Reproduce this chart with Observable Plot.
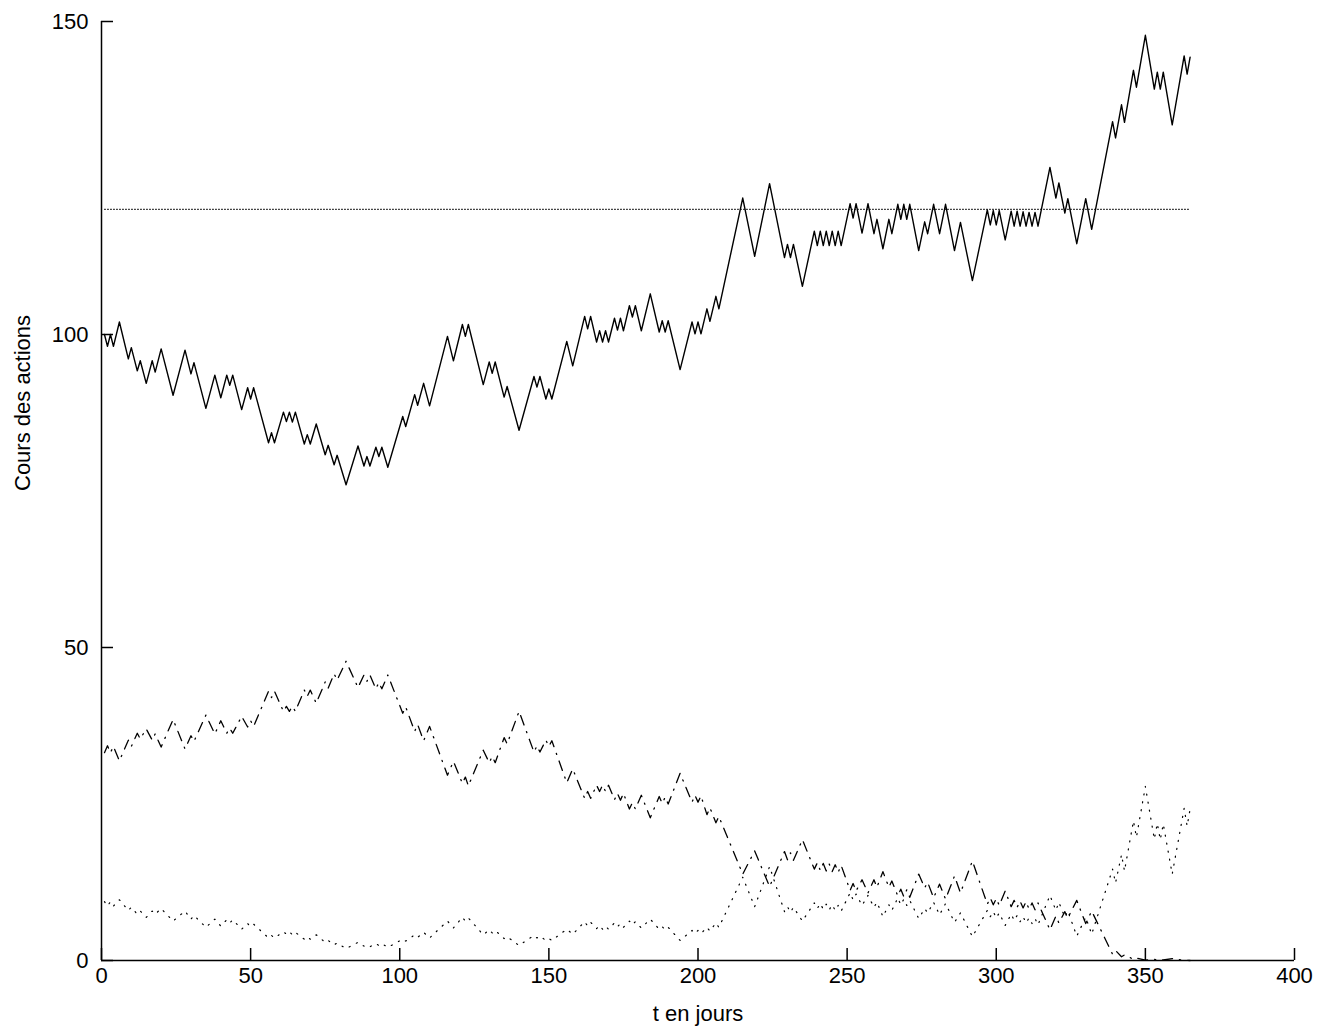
<!DOCTYPE html>
<html>
<head>
<meta charset="utf-8">
<script src="https://cdn.jsdelivr.net/npm/d3@7"></script>
<script src="https://cdn.jsdelivr.net/npm/@observablehq/plot@0.6"></script>
<style>
  html, body { margin: 0; padding: 0; background: #fff; }
  #chart { width: 1337px; height: 1034px; }
</style>
</head>
<body>
<div id="chart"></div>
<script>
// Trading days at which the share price changes direction (turning points of the walk)
const days = [
  1,2,3,4,6,9,10,12,13,15,
  17,18,20,24,28,30,31,35,38,40,
  42,43,44,47,49,50,51,56,57,58,
  61,62,63,64,65,68,69,70,72,75,
  76,78,79,82,86,88,89,90,92,93,
  94,96,101,102,105,106,108,110,116,118,
  121,122,123,128,130,131,132,135,136,140,
  145,146,147,149,150,151,156,158,162,163,
  164,166,167,168,169,170,172,173,174,175,
  177,178,179,181,184,187,188,189,190,194,
  198,199,200,201,203,204,206,207,215,219,
  224,229,230,231,232,235,239,240,241,242,
  243,244,245,246,247,248,251,252,253,255,
  257,259,260,262,264,265,267,268,269,270,
  271,274,276,277,279,281,283,286,288,292,
  297,298,299,300,301,303,305,306,307,308,
  309,310,311,312,313,314,318,320,321,323,
  324,327,330,332,339,340,342,343,346,347,
  350,353,354,355,356,359,363,364,365
];

// Share price on those days
const stock = [
  100.0,98.1,100.0,98.1,102.0,96.1,97.9,94.2,95.8,92.2,
  95.8,94.0,97.7,90.3,97.5,93.7,95.5,88.2,93.5,89.9,
  93.5,91.9,93.5,88.0,91.5,89.7,91.5,82.7,84.3,82.7,
  87.6,86.1,87.6,86.0,87.6,82.5,84.0,82.5,85.7,80.8,
  82.3,79.2,80.7,76.0,82.2,79.0,80.5,79.0,82.0,80.5,
  82.0,78.8,86.9,85.3,90.4,88.7,92.2,88.6,99.7,95.8,
  101.6,99.7,101.6,92.0,95.6,93.8,95.6,90.0,91.7,84.7,
  93.3,91.6,93.3,89.7,91.3,89.7,98.9,95.0,102.9,100.9,
  102.9,98.8,100.6,98.8,100.6,98.8,102.6,100.7,102.6,100.6,
  104.6,102.8,104.6,100.6,106.5,100.4,102.2,100.4,102.2,94.4,
  102.0,100.1,102.0,100.1,104.1,102.1,106.1,104.1,121.8,112.5,
  124.1,112.3,114.4,112.3,114.4,107.7,116.5,114.2,116.5,114.2,
  116.5,114.2,116.5,114.2,116.5,114.2,120.9,118.6,120.9,116.2,
  120.9,116.1,118.4,113.7,118.4,116.1,120.8,118.4,120.8,118.4,
  120.8,113.4,118.0,116.1,120.8,116.1,120.8,113.4,117.9,108.6,
  119.9,117.5,119.8,117.5,119.8,115.1,119.7,117.3,119.7,117.3,
  119.6,117.3,119.5,117.3,119.5,117.3,126.7,121.8,124.2,119.4,
  121.7,114.5,121.7,116.8,134.0,131.4,136.7,133.9,142.2,139.5,
  147.8,139.2,141.9,139.2,141.9,133.5,144.5,141.6,144.3
];

// Put option value (dash-dot curve)
const putPrice = [
  33.2,34.3,33.2,34.2,31.9,35.2,34.2,36.3,35.4,37.0,
  35.2,36.2,34.1,38.5,33.8,35.9,35.0,39.2,36.2,38.3,
  36.3,37.1,36.3,39.0,37.3,38.3,37.4,43.0,42.0,43.0,
  39.8,40.6,39.8,40.6,39.8,43.2,42.2,43.2,41.1,44.5,
  43.5,45.8,44.8,47.8,43.6,45.6,44.6,45.6,43.4,44.4,
  43.4,45.6,39.5,40.5,36.6,37.7,35.1,37.4,29.6,31.8,
  28.3,29.3,27.9,33.6,31.6,32.6,31.6,35.6,34.6,39.8,
  33.3,34.3,33.3,35.2,34.2,35.1,28.4,30.6,25.9,27.0,
  25.9,28.0,27.0,28.0,27.0,28.0,25.7,26.7,25.6,26.7,
  24.2,25.2,24.2,26.4,22.8,26.2,25.1,26.1,25.0,29.9,
  25.3,26.4,25.3,26.3,23.3,24.4,22.0,23.0,13.8,17.5,
  11.8,17.4,16.1,17.2,16.0,19.3,14.6,15.6,14.4,15.5,
  14.3,15.4,14.2,15.3,14.1,15.2,11.2,12.3,11.1,12.9,
  10.8,12.9,11.7,14.2,11.7,12.7,10.3,11.4,10.2,11.3,
  10.1,13.8,11.6,12.5,10.0,12.2,9.8,13.5,10.8,15.9,
  9.0,10.0,8.9,9.9,8.8,11.1,8.6,9.6,8.5,9.5,
  8.4,9.4,8.2,9.2,8.1,9.2,4.9,7.1,6.0,7.8,
  6.8,9.6,5.9,7.9,1.0,1.6,0.6,0.9,0.2,0.4,
  0.05,0.2,0.1,0.15,0.08,0.3,0.02,0.03,0.0
];

// Call option value (dotted curve)
const callPrice = [
  9.4,8.7,9.4,8.7,9.7,8.0,8.5,7.4,7.9,6.9,
  7.9,7.4,8.3,6.3,7.9,6.6,7.2,5.3,6.6,5.5,
  6.5,6.0,6.5,5.0,5.9,5.4,5.8,3.6,4.0,3.6,
  4.6,4.2,4.6,4.1,4.5,3.4,3.8,3.4,4.1,2.9,
  3.2,2.5,2.8,1.9,2.9,2.3,2.5,2.2,2.7,2.4,
  2.7,2.1,3.4,3.1,4.1,3.7,4.5,3.6,6.3,5.2,
  6.9,6.3,6.8,4.1,4.9,4.4,4.8,3.5,3.8,2.4,
  4.0,3.6,3.9,3.2,3.5,3.2,5.0,4.2,6.2,5.5,
  6.1,5.1,5.6,5.0,5.5,5.0,6.0,5.4,5.9,5.3,
  6.3,5.7,6.2,5.2,6.6,5.0,5.4,4.9,5.3,3.2,
  4.8,4.3,4.8,4.3,5.3,4.7,6.0,5.3,13.3,8.6,
  15.0,7.8,8.6,7.7,8.5,6.3,9.2,8.3,9.1,8.2,
  9.0,8.1,8.9,8.0,8.8,7.9,10.8,9.7,10.6,8.8,
  10.4,8.5,9.3,7.0,8.9,8.0,10.0,8.9,9.8,8.8,
  9.6,6.7,8.3,7.6,9.3,7.3,9.1,6.1,7.6,3.8,
  8.0,7.0,7.8,6.8,7.6,5.6,7.4,6.4,7.2,6.2,
  7.0,6.0,6.8,5.9,6.7,5.7,10.4,8.0,9.3,6.9,
  7.9,3.9,6.9,4.2,14.6,12.4,16.9,14.3,22.3,19.7,
  27.8,19.4,21.9,19.3,21.8,13.8,24.3,21.5,24.2
];

// Strike level and the period it is drawn over
const strike = 120;
const strikeDays = [1, 365];

// Axis ticks
const xTicks = [0, 50, 100, 150, 200, 250, 300, 350, 400];
const yTicks = [0, 50, 100, 150];

const series = days.map((t, i) => ({t, stock: stock[i], put: putPrice[i], call: callPrice[i]}));
const strikeLine = strikeDays.map(t => ({t, k: strike}));

const font = "'Liberation Sans', Arial, Helvetica, sans-serif";

const chart = Plot.plot({
  width: 1337,
  height: 1034,
  marginLeft: 101,
  marginRight: 43,
  marginTop: 21,
  marginBottom: 74,
  x: {domain: [0, 400]},
  y: {domain: [0, 150]},
  style: {fontFamily: font, fontSize: "22px", color: "#000", background: "#fff", overflow: "visible"},
  marks: [
    // axes: ticks point into the plotting area
    Plot.axisX(xTicks, {tickSize: -12, tickPadding: 19, strokeWidth: 1.5, label: null, fontSize: 22}),
    Plot.axisY(yTicks, {tickSize: -12, tickPadding: 25, strokeWidth: 1.5, label: null, fontSize: 22}),
    Plot.ruleX([0], {stroke: "#000", strokeWidth: 1.5}),
    Plot.ruleY([0], {stroke: "#000", strokeWidth: 1.5}),

    // strike
    Plot.line(strikeLine, {x: "t", y: "k", stroke: "#000", strokeWidth: 1, strokeDasharray: "1,2"}),

    // share price
    Plot.line(series, {x: "t", y: "stock", stroke: "#000", strokeWidth: 1.4}),

    // put (dash-dot) and call (dotted)
    Plot.line(series, {x: "t", y: "put", stroke: "#000", strokeWidth: 1.3, strokeDasharray: "10,7,1.2,7"}),
    Plot.line(series, {x: "t", y: "call", stroke: "#000", strokeWidth: 1.2, strokeDasharray: "1.1,7"}),

    // axis titles
    Plot.text(["t en jours"], {frameAnchor: "bottom", dy: 53, fontSize: 22, lineAnchor: "middle"}),
    Plot.text(["Cours des actions"], {frameAnchor: "left", dx: -79, rotate: -90, fontSize: 22, lineAnchor: "middle"})
  ]
});

document.getElementById("chart").appendChild(chart);
</script>
</body>
</html>
